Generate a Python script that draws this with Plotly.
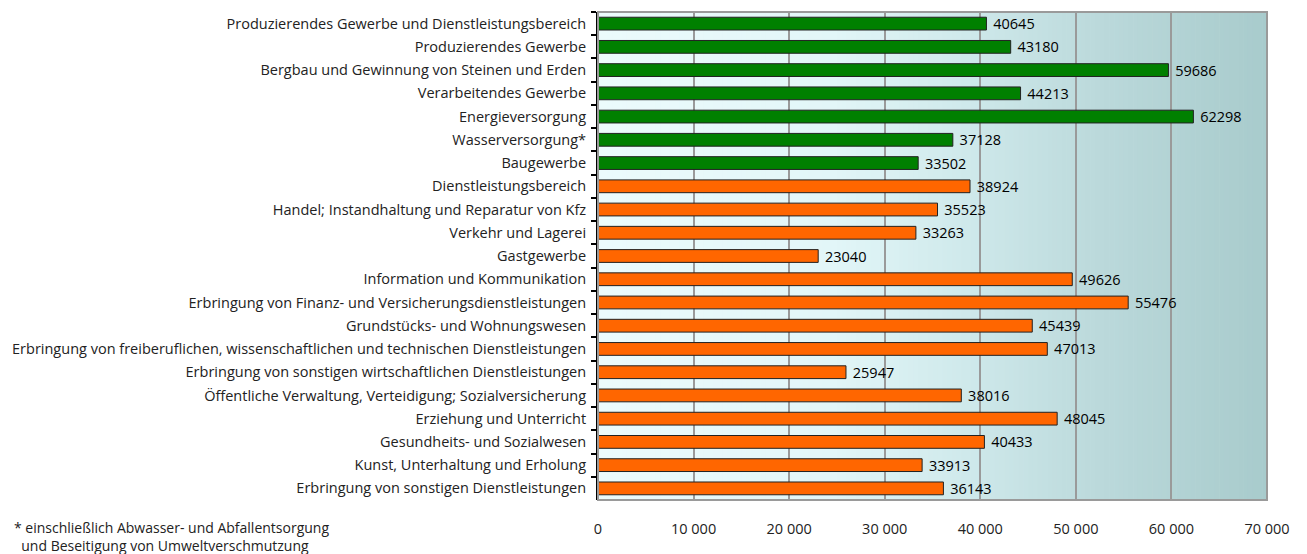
import plotly.graph_objects as go

# Bruttolöhne/-gehälter je Arbeitnehmer nach Wirtschaftsbereichen (EUR)
categories = [
    "Produzierendes Gewerbe und Dienstleistungsbereich",
    "Produzierendes Gewerbe",
    "Bergbau und Gewinnung von Steinen und Erden",
    "Verarbeitendes Gewerbe",
    "Energieversorgung",
    "Wasserversorgung*",
    "Baugewerbe",
    "Dienstleistungsbereich",
    "Handel; Instandhaltung und Reparatur von Kfz",
    "Verkehr und Lagerei",
    "Gastgewerbe",
    "Information und Kommunikation",
    "Erbringung von Finanz- und Versicherungsdienstleistungen",
    "Grundstücks- und Wohnungswesen",
    "Erbringung von freiberuflichen, wissenschaftlichen und technischen Dienstleistungen",
    "Erbringung von sonstigen wirtschaftlichen Dienstleistungen",
    "Öffentliche Verwaltung, Verteidigung; Sozialversicherung",
    "Erziehung und Unterricht",
    "Gesundheits- und Sozialwesen",
    "Kunst, Unterhaltung und Erholung",
    "Erbringung von sonstigen Dienstleistungen",
]
values = [40645, 43180, 59686, 44213, 62298, 37128, 33502,
          38924, 35523, 33263, 23040, 49626, 55476, 45439,
          47013, 25947, 38016, 48045, 40433, 33913, 36143]
groups = ["prod"] * 7 + ["dienst"] * 14
tick_vals = [0, 10000, 20000, 30000, 40000, 50000, 60000, 70000]
footnote = ["* einschließlich Abwasser- und Abfallentsorgung",
            "  und Beseitigung von Umweltverschmutzung"]

colors = {"prod": "#008000", "dienst": "#ff6600"}
FONT = "Open Sans"
FS = 14.5

fig = go.Figure()
fig.add_trace(go.Bar(
    y=categories,
    x=values,
    orientation="h",
    marker=dict(color=[colors[g] for g in groups],
                line=dict(color="#222222", width=1)),
    text=["\u00a0" + str(v) for v in values],
    textposition="outside",
    constraintext="none",
    textfont=dict(size=FS, color="black", family=FONT),
    cliponaxis=False,
    hoverinfo="skip",
))

# horizontal background gradient (light cyan -> grey teal)
stops = [(0.0, (236, 251, 252)), (0.35, (226, 246, 248)), (0.55, (207, 233, 235)),
         (0.75, (187, 217, 219)), (1.0, (168, 203, 204))]


def grad(t):
    for (t0, c0), (t1, c1) in zip(stops[:-1], stops[1:]):
        if t0 <= t <= t1:
            f = (t - t0) / (t1 - t0)
            return "rgb(%d,%d,%d)" % tuple(round(a + (b - a) * f) for a, b in zip(c0, c1))
    return "rgb(%d,%d,%d)" % stops[-1][1]


shapes = []
n = 140
for i in range(n):
    shapes.append(dict(type="rect", xref="x", yref="paper",
                       x0=70000 * i / n, x1=70000 * (i + 1) / n + 60, y0=0, y1=1,
                       fillcolor=grad((i + 0.5) / n), line=dict(width=0), layer="below"))
# grey frame
shapes.append(dict(type="rect", xref="paper", yref="paper", x0=0, x1=1, y0=0, y1=1,
                   line=dict(color="#9a9a9a", width=2), layer="above"))

# page body has an 8px margin, so the figure is 8px smaller and margins shifted
W, H = 1299, 546
ML, MR, MT, MB = 588, 40, 4, 54
pw = W - ML - MR
ph = H - MT - MB

annotations = [
    dict(text=footnote[0], xref="paper", yref="paper", x=-ML / pw, y=-27 / ph,
         xanchor="left", yanchor="middle", showarrow=False,
         font=dict(size=FS - 0.5, color="#222", family=FONT)),
    dict(text=footnote[1], xref="paper", yref="paper", x=-ML / pw, y=-45 / ph,
         xanchor="left", yanchor="middle", showarrow=False,
         font=dict(size=FS - 0.5, color="#222", family=FONT)),
]

fig.update_layout(
    width=W, height=H,
    margin=dict(l=ML, r=MR, t=MT, b=MB, pad=0),
    paper_bgcolor="white",
    plot_bgcolor="#e0f2f3",
    separators=", ",
    bargap=0.45,
    showlegend=False,
    font=dict(family=FONT, size=FS, color="#222"),
    shapes=shapes,
    annotations=annotations,
    xaxis=dict(range=[0, 70000], tickvals=tick_vals, tickformat=",d",
               showgrid=True, gridcolor="#9a9a9a", gridwidth=2, zeroline=False,
               showline=False, ticks="", ticklabelstandoff=18,
               tickfont=dict(size=FS, color="#222", family=FONT), fixedrange=True),
    yaxis=dict(autorange="reversed", showline=True, linecolor="black", linewidth=2,
               ticks="outside", tickson="boundaries", ticklen=5, tickwidth=2,
               tickcolor="black", showgrid=False, zeroline=False, ticklabelstandoff=7,
               tickfont=dict(size=FS, color="#222", family=FONT), fixedrange=True),
)

fig.write_html("out.html")
